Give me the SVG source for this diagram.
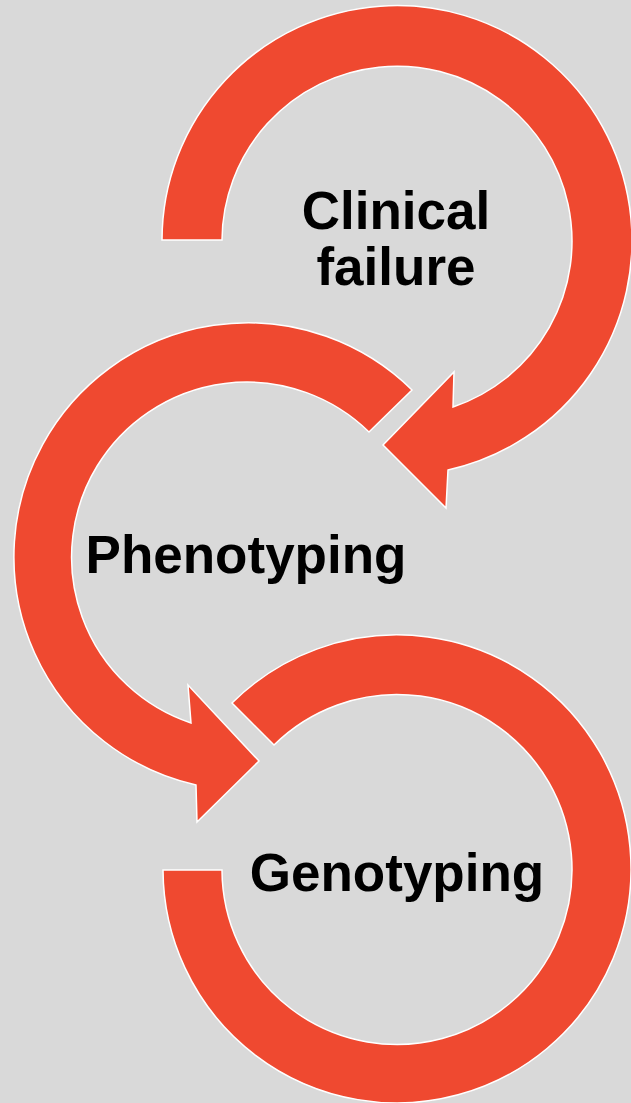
<svg xmlns="http://www.w3.org/2000/svg" width="631" height="1103" viewBox="0 0 631 1103">
<style>
.arc{fill:#EF4930;stroke:#FFFFFF;stroke-width:1.5;stroke-linejoin:miter}
.lbl{font-family:"Liberation Sans",Arial,sans-serif;font-weight:bold;font-size:53px;fill:#000000;text-anchor:middle}
</style>
<rect x="0" y="0" width="631" height="1103" fill="#D9D9D9"/>
<g id="connectors"></g>
<g id="node-genotyping">
<path class="arc" d="M 163,870 A 234 234 0 1 0 232,703 L 274,745 A 175 175 0 1 1 222,870 Z"/>
<text class="lbl" x="397" y="891">Genotyping</text>
</g>
<g id="node-phenotyping">
<path class="arc" d="M 412,390 A 234 234 0 1 0 196,785 L 197,822 L 259,761 L 188,685 L 191,723 A 175 175 0 1 1 369,432 Z"/>
<text class="lbl" x="246" y="573">Phenotyping</text>
</g>
<g id="node-clinical">
<path class="arc" d="M 162,240 A 235 235 0 1 1 448,470 L 446,508 L 383,445 L 454,372 L 453,407 A 175 175 0 1 0 222,240 Z"/>
<text class="lbl" x="396" y="229">Clinical</text>
<text class="lbl" x="396" y="285">failure</text>
</g>
</svg>
